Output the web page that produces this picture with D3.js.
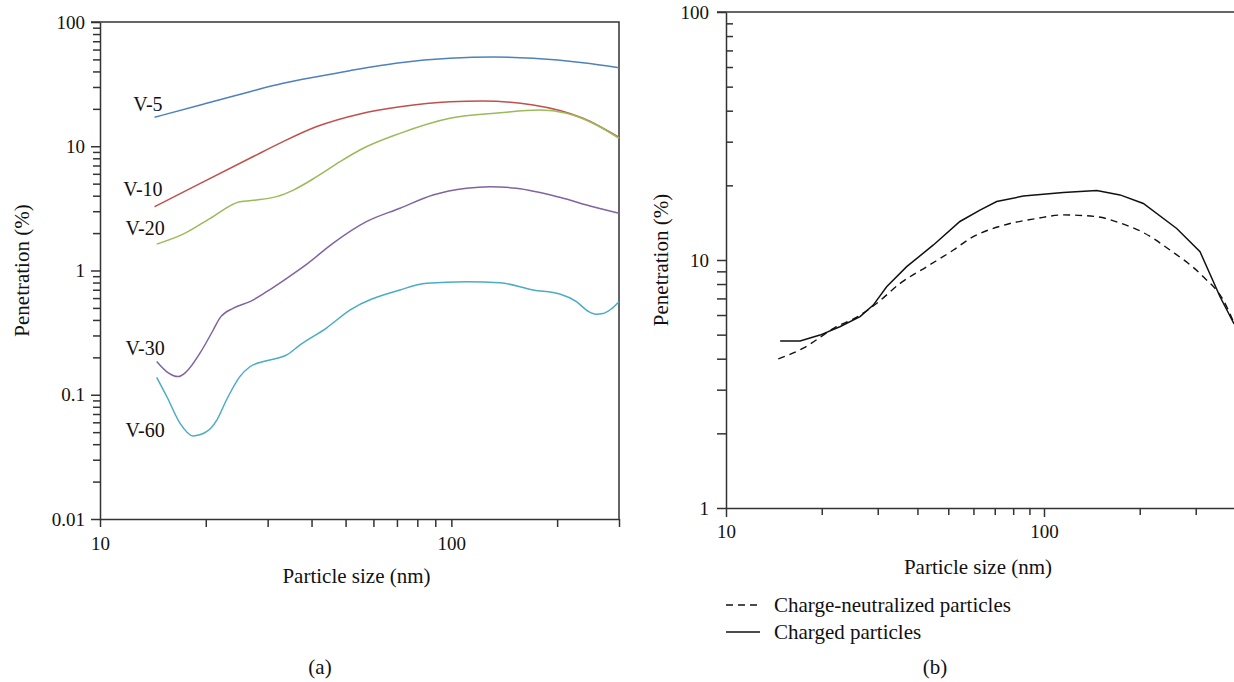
<!DOCTYPE html>
<html lang="en">
<head>
<meta charset="utf-8">
<title>Penetration vs particle size</title>
<script src="https://d3js.org/d3.v7.min.js"></script>
<style>
  body { margin: 0; background: #fff; }
  svg { font-family: "Liberation Serif", "DejaVu Serif", serif; }
  .axis path, .axis line { stroke: #333; stroke-width: 1.5; }
  .axis text { font-size: 19px; fill: #111; font-family: "Liberation Serif", serif; }
  .title { font-size: 21px; fill: #111; }
  .lbl { font-size: 20px; fill: #111; }
</style>
</head>
<body>
<script>
// panel (a): penetration for each voltage
var sizeV5  = [14.3, 19.3, 26.7, 33.2, 41.4, 51.4, 71.4, 99, 131.5, 170.9, 237, 300];
var penV5   = [17.1, 21.5, 27.5, 32.1, 36.3, 40.6, 47.0, 51.0, 52.3, 51.0, 47.0, 42.9];

var sizeV10 = [14.3, 19.3, 26.7, 33.2, 41.4, 54.9, 71.4, 99, 123, 170.9, 237, 300];
var penV10  = [3.26, 5.03, 8.0, 10.9, 14.4, 18.2, 20.8, 22.8, 23.1, 21.5, 16.8, 11.8];

var sizeV20 = [14.5, 17.3, 20.6, 25.0, 27.9, 31.8, 35.5, 41.4, 48.2, 54.9, 71.4, 99, 137.4, 178.5, 212.7, 253, 300];
var penV20  = [1.63, 1.97, 2.63, 3.58, 3.69, 3.93, 4.44, 5.69, 7.51, 9.33, 12.7, 16.8, 18.6, 19.6, 18.4, 15.3, 11.6];

var sizeV30 = [14.5, 15.5, 16.7, 17.6, 19.25, 21.0, 21.9, 23.9, 26.7, 29.8, 34.0, 38.7, 46.1, 57.3, 71.4, 88.7, 110.4, 128.7, 153.2, 203.5, 253, 300];
var penV30  = [0.185, 0.153, 0.140, 0.153, 0.216, 0.332, 0.412, 0.496, 0.561, 0.675, 0.865, 1.12, 1.66, 2.47, 3.17, 4.05, 4.59, 4.73, 4.59, 3.88, 3.26, 2.89];

var sizeV60 = [14.5, 15.5, 16.9, 18.4, 20.1, 21.5, 22.9, 25.0, 26.7, 29.8, 34.0, 37.1, 44.2, 51.4, 71.4, 85, 110.4, 137.4, 170.9, 203.5, 227, 245, 258, 270, 285, 300];
var penV60  = [0.138, 0.0964, 0.0589, 0.0466, 0.0504, 0.0626, 0.0907, 0.140, 0.168, 0.188, 0.209, 0.252, 0.346, 0.48, 0.697, 0.789, 0.8125, 0.7975, 0.697, 0.647, 0.561, 0.47, 0.445, 0.45, 0.49, 0.561];

// panel (b)
var sizeNeutral = [14.6, 17.5, 21.8, 26.4, 29.8, 35.3, 42.8, 51.9, 58.5, 74.5, 94.8, 115, 146.5, 173.4, 205.3, 249, 317, 366, 396];
var penNeutral  = [3.99, 4.41, 5.30, 5.99, 6.69, 8.05, 9.40, 10.97, 12.2, 13.8, 14.7, 15.2, 14.95, 14.1, 12.9, 10.97, 8.56, 6.90, 5.56];

var sizeCharged = [14.8, 17.1, 19.75, 22.8, 26.4, 29.05, 32.0, 37.0, 44.9, 54.4, 62.9, 71.0, 86.1, 115, 146.5, 173.4, 205.3, 261.4, 309.5, 357.8, 396];
var penCharged  = [4.71, 4.71, 4.98, 5.38, 5.91, 6.58, 7.80, 9.40, 11.5, 14.3, 15.9, 17.2, 18.1, 18.7, 19.05, 18.3, 16.9, 13.4, 10.8, 7.11, 5.52];

var seriesNames = ["V-5", "V-10", "V-20", "V-30", "V-60"];
var legendNames = ["Charge-neutralized particles", "Charged particles"];

var decadeTicksA = [0.01, 0.1, 1, 10, 100];
var xTicksA = [10, 20, 30, 40, 50, 60, 70, 80, 90, 100, 200, 300];
var xTicksB = [10, 20, 30, 40, 50, 60, 70, 80, 90, 100, 200, 300];

var W = 1234, H = 682;
var svg = d3.select("body").append("svg").attr("width", W).attr("height", H);

function zip(xs, ys) { return xs.map(function(x, i) { return [x, ys[i]]; }); }
function minors(lo, hi) {
  var out = [];
  for (var p = lo; p < hi; p *= 10) for (var k = 2; k <= 9; k++) out.push(+(p * k).toPrecision(3));
  return out;
}
var fmt = function(d) { return d3.format("~g")(d); };

// ---------- panel (a) ----------
var xA = d3.scaleLog().domain([10, 300]).range([100, 619]);
var yA = d3.scaleLog().domain([0.01, 100]).range([519, 22]);

var gA = svg.append("g");

gA.append("g").attr("class", "axis")
  .attr("transform", "translate(0," + yA(0.01) + ")")
  .call(d3.axisBottom(xA).tickValues(xTicksA).tickSize(8).tickSizeOuter(0).tickPadding(10)
    .tickFormat(function(d) { return (d === 10 || d === 100) ? fmt(d) : ""; }));

gA.append("g").attr("class", "axis")
  .attr("transform", "translate(" + xA(10) + ",0)")
  .call(d3.axisLeft(yA).tickValues(decadeTicksA).tickSize(9).tickSizeOuter(0).tickPadding(6).tickFormat(fmt));

gA.append("g").attr("class", "axis")
  .attr("transform", "translate(" + xA(10) + ",0)")
  .call(d3.axisLeft(yA).tickValues(minors(0.01, 100)).tickSize(7).tickSizeOuter(0).tickFormat(""))
  .select(".domain").remove();

// top & right frame
gA.append("path").attr("fill", "none").attr("stroke", "#333").attr("stroke-width", 1.5)
  .attr("d", "M" + (xA(10) - 9) + "," + yA(100) + "H" + xA(300) + "V" + yA(0.01));

var colorsA = ["#4F81BD", "#C0504D", "#9BBB59", "#8064A2", "#4BACC6"];
var dataA = [zip(sizeV5, penV5), zip(sizeV10, penV10), zip(sizeV20, penV20), zip(sizeV30, penV30), zip(sizeV60, penV60)];
var labelDy = [-6, -11, -9, -7, 60];

var lineA = d3.line().x(function(d) { return xA(d[0]); }).y(function(d) { return yA(d[1]); })
  .curve(d3.curveMonotoneX);

gA.selectAll(".series").data(dataA).enter().append("path")
  .attr("fill", "none").attr("stroke-width", 1.5)
  .attr("stroke", function(d, i) { return colorsA[i]; })
  .attr("d", lineA);

gA.selectAll(".vlab").data(dataA).enter().append("text")
  .attr("class", "lbl")
  .attr("text-anchor", "end")
  .attr("x", function(d) { return xA(d[0][0]) + 8; })
  .attr("y", function(d, i) { return yA(d[0][1]) + labelDy[i]; })
  .text(function(d, i) { return seriesNames[i]; });

gA.append("text").attr("class", "title")
  .attr("transform", "translate(29," + ((yA(100) + yA(0.01)) / 2) + ") rotate(-90)")
  .attr("text-anchor", "middle").text("Penetration (%)");

gA.append("text").attr("class", "title")
  .attr("x", (xA(10) + xA(300)) / 2 - 3).attr("y", 583)
  .attr("text-anchor", "middle").text("Particle size (nm)");

gA.append("text").attr("class", "title")
  .attr("x", 320).attr("y", 674).attr("text-anchor", "middle").text("(a)");

// ---------- panel (b) ----------
var xB = d3.scaleLog().domain([10, 400]).range([726, 726 + 318 * Math.log10(40)]);
var yB = d3.scaleLog().domain([1, 100]).range([508, 12]);

var gB = svg.append("g");

gB.append("g").attr("class", "axis")
  .attr("transform", "translate(0," + yB(1) + ")")
  .call(d3.axisBottom(xB).tickValues(xTicksB).tickSize(7).tickSizeOuter(0).tickPadding(10)
    .tickFormat(function(d) { return (d === 10 || d === 100) ? fmt(d) : ""; }))
  .selectAll(".tick line").attr("y2", function(d) { return (d === 10 || d === 100) ? 9 : 7; });

gB.append("g").attr("class", "axis")
  .attr("transform", "translate(" + xB(10) + ",0)")
  .call(d3.axisLeft(yB).tickValues([1, 10, 100].concat(minors(1, 10))).tickSize(9).tickSizeOuter(0).tickPadding(8)
    .tickFormat(function(d) { return (d === 1 || d === 10 || d === 100) ? fmt(d) : ""; }));

// upper decade minor ticks point inward
gB.append("g").attr("class", "axis")
  .attr("transform", "translate(" + xB(10) + ",0)")
  .call(d3.axisRight(yB).tickValues(minors(10, 100)).tickSize(7).tickSizeOuter(0).tickFormat(""))
  .select(".domain").remove();

gB.append("path").attr("fill", "none").attr("stroke", "#333").attr("stroke-width", 1.5)
  .attr("d", "M" + (xB(10) - 9) + "," + yB(100) + "H" + W);

var lineSmooth = d3.line().x(function(d) { return xB(d[0]); }).y(function(d) { return yB(d[1]); })
  .curve(d3.curveMonotoneX);
var lineStraight = d3.line().x(function(d) { return xB(d[0]); }).y(function(d) { return yB(d[1]); });

gB.append("path").attr("fill", "none").attr("stroke", "#111").attr("stroke-width", 1.4)
  .attr("stroke-dasharray", "7,5")
  .attr("d", lineSmooth(zip(sizeNeutral, penNeutral)));

gB.append("path").attr("fill", "none").attr("stroke", "#111").attr("stroke-width", 1.5)
  .attr("d", lineStraight(zip(sizeCharged, penCharged)));

gB.append("text").attr("class", "title")
  .attr("transform", "translate(668," + ((yB(100) + yB(1)) / 2) + ") rotate(-90)")
  .attr("text-anchor", "middle").text("Penetration (%)");

gB.append("text").attr("class", "title")
  .attr("x", 978).attr("y", 574).attr("text-anchor", "middle").text("Particle size (nm)");

// legend
var leg = gB.selectAll(".leg").data(legendNames).enter().append("g")
  .attr("transform", function(d, i) { return "translate(726," + (605 + i * 27) + ")"; });
leg.append("line").attr("x1", 0).attr("x2", 34).attr("stroke", "#111").attr("stroke-width", 1.4)
  .attr("stroke-dasharray", function(d, i) { return i === 0 ? "7,5" : null; });
leg.append("text").attr("class", "title").attr("x", 48).attr("dy", "0.33em").text(function(d) { return d; });

gB.append("text").attr("class", "title")
  .attr("x", 935).attr("y", 674).attr("text-anchor", "middle").text("(b)");
</script>
</body>
</html>
